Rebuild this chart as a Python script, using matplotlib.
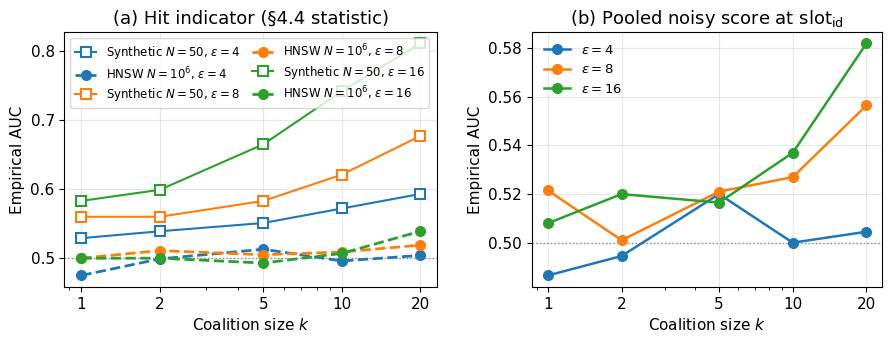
import matplotlib
matplotlib.use("Agg")
import matplotlib.pyplot as plt
from matplotlib.ticker import MultipleLocator, NullFormatter

k_vals = [1, 2, 5, 10, 20]
eps_list = [4, 8, 16]
colors = ["#1f77b4", "#ff7f0e", "#2ca02c"]

# (a) hit indicator
synthetic_auc = {
    4: [0.529, 0.539, 0.551, 0.572, 0.593],
    8: [0.560, 0.560, 0.583, 0.621, 0.677],
    16: [0.583, 0.599, 0.665, 0.742, 0.811],
}
hnsw_auc = {
    4: [0.475, 0.499, 0.513, 0.496, 0.504],
    8: [0.500, 0.511, 0.505, 0.509, 0.519],
    16: [0.500, 0.500, 0.493, 0.507, 0.539],
}

# (b) pooled noisy score
pooled_auc = {
    4: [0.4865, 0.4945, 0.520, 0.500, 0.5045],
    8: [0.5215, 0.501, 0.521, 0.527, 0.5565],
    16: [0.508, 0.520, 0.5165, 0.537, 0.582],
}


def style_axis(ax):
    ax.set_xscale("log")
    ax.set_xticks(k_vals)
    ax.set_xticklabels([str(k) for k in k_vals])
    ax.xaxis.set_minor_formatter(NullFormatter())
    ax.axhline(0.5, color="grey", linestyle=":", linewidth=1, zorder=0)
    ax.grid(True, alpha=0.3)
    ax.set_xlabel("Coalition size $k$", fontsize=11)
    ax.set_ylabel("Empirical AUC", fontsize=11)
    ax.tick_params(labelsize=11)


fig = plt.figure(figsize=(8.94, 3.62), dpi=100)
ax1 = fig.add_axes([0.072, 0.207, 0.417, 0.705])
ax2 = fig.add_axes([0.595, 0.207, 0.392, 0.705])

for eps, c in zip(eps_list, colors):
    ax1.plot(k_vals, synthetic_auc[eps], "-s", color=c, markerfacecolor="white",
             markersize=7, markeredgewidth=1.5, linewidth=1.5,
             label=rf"Synthetic $N=50$, $\varepsilon={eps}$")
    ax1.plot(k_vals, hnsw_auc[eps], "--o", color=c, markersize=7, linewidth=2,
             label=rf"HNSW $N=10^6$, $\varepsilon={eps}$")
style_axis(ax1)
ax1.yaxis.set_major_locator(MultipleLocator(0.1))
ax1.set_title("(a) Hit indicator (§4.4 statistic)", fontsize=13)
ax1.legend(ncol=2, loc="upper left", fontsize=8.5, frameon=True,
           labelspacing=0.3, columnspacing=1.0, handlelength=1.8)

for eps, c in zip(eps_list, colors):
    ax2.plot(k_vals, pooled_auc[eps], "-o", color=c, markersize=7, linewidth=1.8,
             label=rf"$\varepsilon={eps}$")
style_axis(ax2)
ax2.set_title(r"(b) Pooled noisy score at slot$_{\mathrm{id}}$", fontsize=13)
ax2.legend(loc="upper left", fontsize=9.5, frameon=False)

fig.savefig("out.png", dpi=100)
